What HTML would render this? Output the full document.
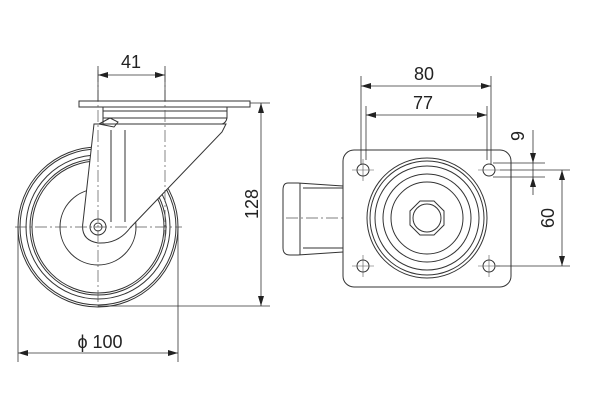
<!DOCTYPE html>
<html><head><style>html,body{margin:0;padding:0;background:#fff}svg{display:block}</style></head>
<body>
<svg width="600" height="400" viewBox="0 0 600 400" xmlns="http://www.w3.org/2000/svg" font-family="Liberation Sans, sans-serif">
<defs>
<marker id="a" viewBox="0 0 10 6" refX="10" refY="3" markerWidth="10" markerHeight="6" orient="auto-start-reverse" markerUnits="userSpaceOnUse"><path d="M0,0 L10,3 L0,6 z" fill="#222"/></marker>
</defs>
<g fill="none" stroke="#333" stroke-width="1">
<circle cx="98" cy="227" r="80"/>
<circle cx="98" cy="227" r="78"/>
<circle cx="98" cy="227" r="72"/>
<circle cx="98" cy="227" r="68"/>
<circle cx="98" cy="227" r="66"/>
<circle cx="98" cy="227" r="38"/>
<path d="M94,124 L226,124 L222,132 L130,228 Q118,244 98,243 Q80,240 83,222 Z" fill="#fff"/>
<path d="M103,107 L227,107 L227,118 Q226,123 222,124 L103,124 Z" fill="#fff"/>
<line x1="103" y1="111" x2="227" y2="111"/>
<line x1="103" y1="118" x2="227" y2="118"/>
<rect x="79" y="101" width="171" height="6" fill="#fff"/>
<path d="M99,124 L110,118 L118,122 L114,127 Z"/>
<line x1="111" y1="130" x2="111" y2="222"/>
<line x1="125" y1="130" x2="125" y2="222"/>
<circle cx="98" cy="227" r="8" fill="#fff"/>
<circle cx="98" cy="227" r="4"/>
</g>
<g stroke="#555" stroke-width="0.7" stroke-dasharray="12,3,2,3" fill="none">
<line x1="98" y1="70" x2="98" y2="310"/>
<line x1="165" y1="70" x2="165" y2="240"/>
<line x1="15" y1="227" x2="182" y2="227"/>
<line x1="427" y1="150" x2="427" y2="290"/>
<line x1="286" y1="218" x2="510" y2="218"/>
</g>
<g stroke="#333" stroke-width="0.8" fill="none">
<line x1="98" y1="66" x2="98" y2="101"/>
<line x1="165" y1="66" x2="165" y2="101"/>
<line x1="98" y1="75" x2="165" y2="75" marker-start="url(#a)" marker-end="url(#a)"/>
<line x1="250" y1="103" x2="270" y2="103"/>
<line x1="98" y1="306" x2="270" y2="306"/>
<line x1="261" y1="103" x2="261" y2="306" marker-start="url(#a)" marker-end="url(#a)"/>
<line x1="18" y1="227" x2="18" y2="362"/>
<line x1="178" y1="227" x2="178" y2="362"/>
<line x1="18" y1="353" x2="178" y2="353" marker-start="url(#a)" marker-end="url(#a)"/>
</g>
<g font-size="18" fill="#222" text-anchor="middle">
<text x="131" y="68">41</text>
<text x="100" y="348">ϕ 100</text>
<text transform="translate(258,204) rotate(-90)">128</text>
<text x="424" y="80">80</text>
<text x="423" y="109">77</text>
<text transform="translate(524,136) rotate(-90)">9</text>
<text transform="translate(554,218) rotate(-90)">60</text>
</g>
<g fill="none" stroke="#333" stroke-width="1">
<path d="M343,186 L298,183 L288,183 Q283,183 283,190 L283,248 Q283,255 290,255 L298,255 L343,252"/>
<line x1="300" y1="183" x2="300" y2="255"/>
<line x1="303" y1="188" x2="343" y2="188"/>
<line x1="303" y1="248" x2="343" y2="248"/>
<rect x="343" y="150" width="168" height="137" rx="11" fill="#fff"/>
<circle cx="427" cy="218" r="60"/>
<circle cx="427" cy="218" r="57"/>
<circle cx="427" cy="218" r="52"/>
<circle cx="427" cy="218" r="44"/>
<circle cx="427" cy="218" r="36"/>
<path d="M420,201 L434,201 L444,211 L444,225 L434,235 L420,235 L410,225 L410,211 Z"/>
<circle cx="427" cy="218" r="14"/>
<circle cx="363" cy="170" r="6"/>
<circle cx="489" cy="170" r="6"/>
<circle cx="363" cy="266" r="6"/>
<circle cx="489" cy="266" r="6"/>
</g>
<g stroke="#555" stroke-width="0.6">
<line x1="352" y1="170" x2="374" y2="170"/><line x1="363" y1="159" x2="363" y2="181"/>
<line x1="478" y1="170" x2="500" y2="170"/>
<line x1="352" y1="266" x2="374" y2="266"/><line x1="363" y1="255" x2="363" y2="277"/>
<line x1="478" y1="266" x2="500" y2="266"/><line x1="489" y1="255" x2="489" y2="277"/>
</g>
<g stroke="#333" stroke-width="0.8" fill="none">
<line x1="361" y1="76" x2="361" y2="165"/>
<line x1="491" y1="76" x2="491" y2="165"/>
<line x1="361" y1="86" x2="491" y2="86" marker-start="url(#a)" marker-end="url(#a)"/>
<line x1="366" y1="106" x2="366" y2="160"/>
<line x1="487" y1="106" x2="487" y2="160"/>
<line x1="366" y1="115" x2="487" y2="115" marker-start="url(#a)" marker-end="url(#a)"/>
<line x1="493" y1="163" x2="545" y2="163"/>
<line x1="493" y1="177" x2="545" y2="177"/>
<line x1="533" y1="130" x2="533" y2="163" marker-end="url(#a)"/>
<line x1="533" y1="177" x2="533" y2="195" marker-start="url(#a)"/>
<line x1="533" y1="163" x2="533" y2="177"/>
<line x1="500" y1="170" x2="570" y2="170"/>
<line x1="496" y1="266" x2="570" y2="266"/>
<line x1="562" y1="170" x2="562" y2="266" marker-start="url(#a)" marker-end="url(#a)"/>
</g>
</svg>
</body></html>
